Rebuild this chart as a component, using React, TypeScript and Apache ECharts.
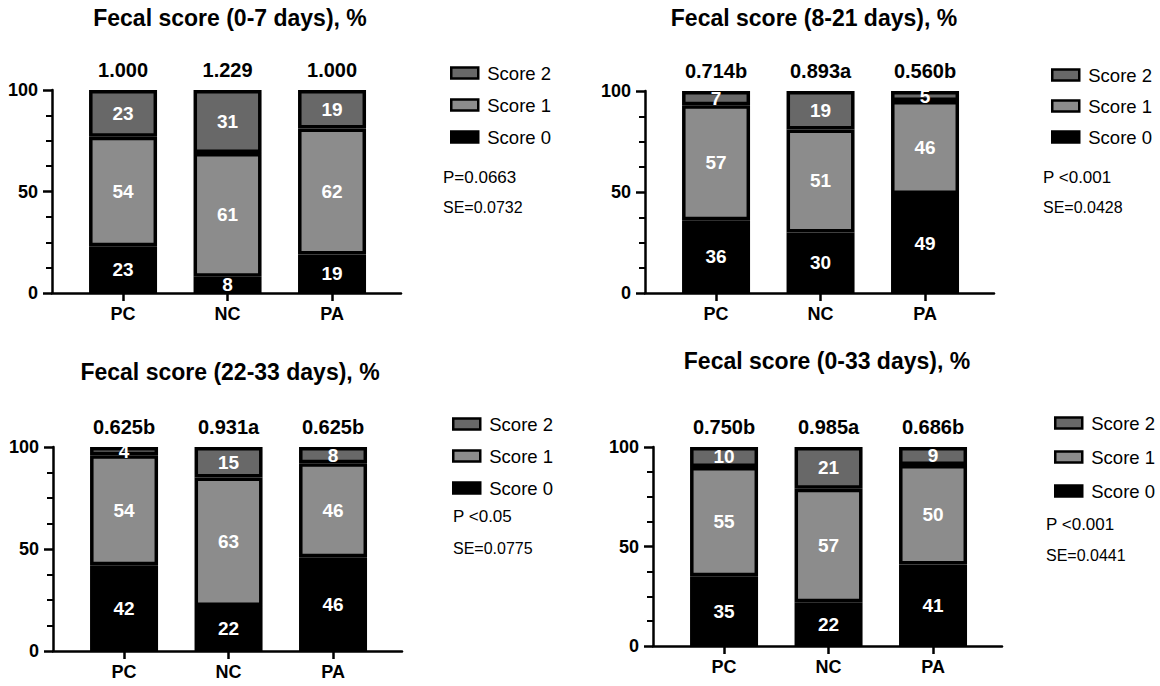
import React, { useEffect, useRef } from 'react';
import * as echarts from 'echarts';

const categories = ['PC', 'NC', 'PA'];
const seriesNames = ['Score 0', 'Score 1', 'Score 2'];
const legendOrder = ['Score 2', 'Score 1', 'Score 0'];

const titles = [
  'Fecal score (0-7 days), %',
  'Fecal score (8-21 days), %',
  'Fecal score (22-33 days), %',
  'Fecal score (0-33 days), %',
];

// 0-7 days
const score0_d0_7 = [23, 8, 19];
const score1_d0_7 = [54, 61, 62];
const score2_d0_7 = [23, 31, 19];
const mean_d0_7 = ['1.000', '1.229', '1.000'];

// 8-21 days
const score0_d8_21 = [36, 30, 49];
const score1_d8_21 = [57, 51, 46];
const score2_d8_21 = [7, 19, 5];
const mean_d8_21 = ['0.714b', '0.893a', '0.560b'];

// 22-33 days
const score0_d22_33 = [42, 22, 46];
const score1_d22_33 = [54, 63, 46];
const score2_d22_33 = [4, 15, 8];
const mean_d22_33 = ['0.625b', '0.931a', '0.625b'];

// 0-33 days
const score0_d0_33 = [35, 22, 41];
const score1_d0_33 = [55, 57, 50];
const score2_d0_33 = [10, 21, 9];
const mean_d0_33 = ['0.750b', '0.985a', '0.686b'];

const pValues = ['P=0.0663', 'P <0.001', 'P <0.05', 'P <0.001'];
const seValues = ['SE=0.0732', 'SE=0.0428', 'SE=0.0775', 'SE=0.0441'];

const panelScores = [
  [score0_d0_7, score1_d0_7, score2_d0_7],
  [score0_d8_21, score1_d8_21, score2_d8_21],
  [score0_d22_33, score1_d22_33, score2_d22_33],
  [score0_d0_33, score1_d0_33, score2_d0_33],
];
const panelMeans = [mean_d0_7, mean_d8_21, mean_d22_33, mean_d0_33];

const COLORS = ['#000000', '#8c8c8c', '#686868'];
const FONT = '"Liberation Sans", Arial, sans-serif';

const layouts = [
  { left: 52, top: 90, height: 203, titleX: 230, titleY: 18, legendLeft: 445, legendTop: 58, legendGap: 12, statX: 443, pY: 177, seY: 207 },
  { left: 645, top: 91, height: 202, titleX: 814, titleY: 18, legendLeft: 1046, legendTop: 60, legendGap: 11, statX: 1043, pY: 177, seY: 207 },
  { left: 53, top: 447, height: 204, titleX: 230, titleY: 372, legendLeft: 447, legendTop: 409, legendGap: 12, statX: 453, pY: 516, seY: 548 },
  { left: 653, top: 447, height: 199, titleX: 827, titleY: 361, legendLeft: 1049, legendTop: 408, legendGap: 14, statX: 1046, pY: 524, seY: 555 },
];

const X_MIN = -0.68;
const X_MAX = 2.66;
const GRID_W = 349;

const catIdx = [0, 1, 2];

function buildOption() {
  const axisLineStyle = { color: '#000', width: 2.5 };
  const grid = layouts.map((l) => ({ left: l.left, top: l.top, width: GRID_W, height: l.height, containLabel: false }));
  const xAxis = layouts.map((l, i) => ({
    gridIndex: i,
    type: 'value',
    min: X_MIN,
    max: X_MAX,
    splitLine: { show: false },
    axisLine: { show: true, onZero: false, lineStyle: axisLineStyle },
    axisTick: { show: true, customValues: catIdx, length: 8, lineStyle: axisLineStyle },
    axisLabel: {
      show: true,
      customValues: catIdx,
      formatter: (v: number) => categories[Math.round(v)] ?? '',
      fontSize: 18,
      fontWeight: 'bold',
      color: '#000',
      margin: 12,
      fontFamily: FONT,
    },
  }));
  const yAxis = layouts.map((l, i) => ({
    gridIndex: i,
    type: 'value',
    min: 0,
    max: 100,
    interval: 50,
    splitLine: { show: false },
    axisLine: { show: true, onZero: false, lineStyle: axisLineStyle },
    axisTick: { show: true, length: 9, lineStyle: axisLineStyle },
    minorTick: { show: true, splitNumber: 4, length: 6, lineStyle: { color: '#000', width: 2 } },
    minorSplitLine: { show: false },
    axisLabel: { fontSize: 18, fontWeight: 'bold', color: '#000', margin: 14, fontFamily: FONT },
  }));

  const series: any[] = [];
  panelScores.forEach((scores, i) => {
    scores.forEach((vals, k) => {
      series.push({
        type: 'bar',
        name: seriesNames[k],
        xAxisIndex: i,
        yAxisIndex: i,
        stack: 'panel' + i,
        barWidth: 68,
        // value first so that the stacked dimension is the y value
        data: vals.map((v, j) => [v, j]),
        encode: { x: 1, y: 0 },
        itemStyle: { color: COLORS[k], borderColor: '#000', borderWidth: 3.5 },
        label: {
          show: true,
          position: 'inside',
          color: '#fff',
          fontSize: 19,
          fontWeight: 'bold',
          fontFamily: FONT,
          formatter: (p: any) => String(p.value[0]),
        },
        emphasis: { disabled: true },
      });
    });
    const totals = categories.map((_, j) => scores[0][j] + scores[1][j] + scores[2][j]);
    series.push({
      type: 'scatter',
      name: 'mean' + i,
      xAxisIndex: i,
      yAxisIndex: i,
      symbolSize: 0,
      silent: true,
      itemStyle: { opacity: 1 },
      data: totals.map((t, j) => [j, t]),
      label: {
        show: true,
        position: 'top',
        distance: 10,
        color: '#000',
        opacity: 1,
        fontSize: 20,
        fontWeight: 'bold',
        fontFamily: FONT,
        formatter: (p: any) => panelMeans[i][p.dataIndex],
      },
    });
  });

  const legend = layouts.map((l) => ({
    orient: 'vertical',
    left: l.legendLeft,
    top: l.legendTop,
    itemWidth: 27,
    itemHeight: 11,
    itemGap: l.legendGap,
    icon: 'rect',
    selectedMode: false,
    data: legendOrder,
    itemStyle: { borderColor: '#000', borderWidth: 2.5 },
    textStyle: { fontSize: 18.5, color: '#000', lineHeight: 20, padding: [0, 0, 0, 4], fontFamily: FONT },
  }));

  const graphic: any[] = [];
  layouts.forEach((l, i) => {
    graphic.push({
      type: 'text',
      x: l.titleX,
      y: l.titleY,
      style: { text: titles[i], align: 'center', verticalAlign: 'middle', font: `bold 23px ${FONT}`, fill: '#000' },
    });
    graphic.push({
      type: 'text',
      x: l.statX,
      y: l.pY,
      style: { text: pValues[i], align: 'left', verticalAlign: 'middle', font: `17px ${FONT}`, fill: '#000' },
    });
    graphic.push({
      type: 'text',
      x: l.statX,
      y: l.seY,
      style: { text: seValues[i], align: 'left', verticalAlign: 'middle', font: `16px ${FONT}`, fill: '#000' },
    });
  });

  return {
    animation: false,
    backgroundColor: '#fff',
    textStyle: { fontFamily: FONT },
    grid,
    xAxis,
    yAxis,
    legend,
    series,
    graphic,
  };
}

export default function App() {
  const ref = useRef<HTMLDivElement>(null);
  useEffect(() => {
    if (!ref.current) return;
    const chart = echarts.init(ref.current, undefined, { renderer: 'svg' });
    chart.setOption(buildOption() as any);
    return () => chart.dispose();
  }, []);
  return (
    <div
      ref={ref}
      style={{ position: 'fixed', left: 0, top: 0, width: 1160, height: 686, background: '#fff' }}
    />
  );
}
